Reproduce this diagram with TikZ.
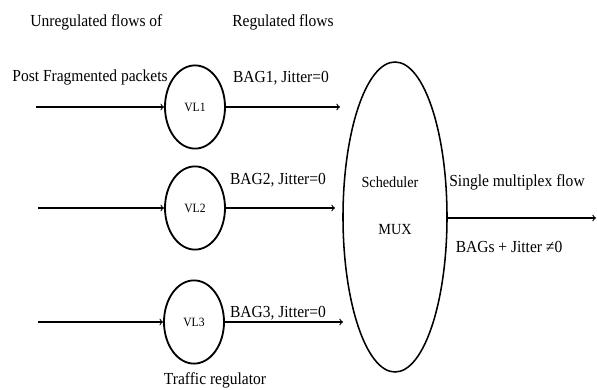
\documentclass[tikz,border=0pt]{standalone}
\usepackage{fontspec}
\setmainfont{Liberation Serif}[FakeStretch=0.92]
\usetikzlibrary{shapes.geometric}
\begin{document}
\begin{tikzpicture}[every node/.style={font=\fontsize{12}{14}\selectfont},
  flow/.style={->,line width=0.8pt},
  reg/.style={draw,ellipse,line width=1.3pt,minimum width=1.5cm,minimum height=2.08cm,inner sep=0pt,font=\fontsize{9}{11}\selectfont},
  mux/.style={draw,ellipse,line width=1.1pt,minimum width=2.6cm,minimum height=7.75cm}]
\useasboundingbox (0,0) rectangle (14.925,9.725);
% regulators
\node[reg] (vl1) at (4.875,7.05) {VL1};
\node[reg] (vl2) at (4.875,4.525) {VL2};
\node[reg] (vl3) at (4.85,1.675) {VL3};
\node[mux] (sched) at (9.875,4.3) {};
\node[font=\fontsize{11}{13}\selectfont] (schedlbl) at (9.75,5.175) {Scheduler};
\node[font=\fontsize{11}{13}\selectfont] (muxlbl) at (9.875,3.975) {MUX};
% free ends
\coordinate (in1) at (0.9,7.05);
\coordinate (in2) at (0.95,4.525);
\coordinate (in3) at (0.95,1.675);
\coordinate (out1) at (8.5,7.05);
\coordinate (out2) at (8.375,4.525);
\coordinate (out3) at (8.575,1.675);
\coordinate (outm) at (14.9,4.275);
\draw[flow] (in1) -- (vl1);
\draw[flow] (in2) -- (vl2);
\draw[flow] (in3) -- (vl3);
\draw[flow] (vl1) -- (out1);
\draw[flow] (vl2) -- (out2);
\draw[flow] (vl3) -- (out3);
\draw[flow] (sched.east |- outm) -- (outm);
% labels
\node (unreg) at (2.41,9.175) {Unregulated flows of};
\node (post) at (2.25,7.8) {Post Fragmented packets};
\node (regd) at (7.075,9.175) {Regulated flows};
\node (bag1) at (7.025,7.775) {BAG1, Jitter=0};
\node (bag2) at (6.95,5.225) {BAG2, Jitter=0};
\node (bag3) at (6.95,1.9) {BAG3, Jitter=0};
\node (tr) at (5.375,0.225) {Traffic regulator};
\node (single) at (12.925,5.175) {Single multiplex flow};
\node (bags) at (12.725,3.55) {BAGs + Jitter ≠0};
\end{tikzpicture}
\end{document}
